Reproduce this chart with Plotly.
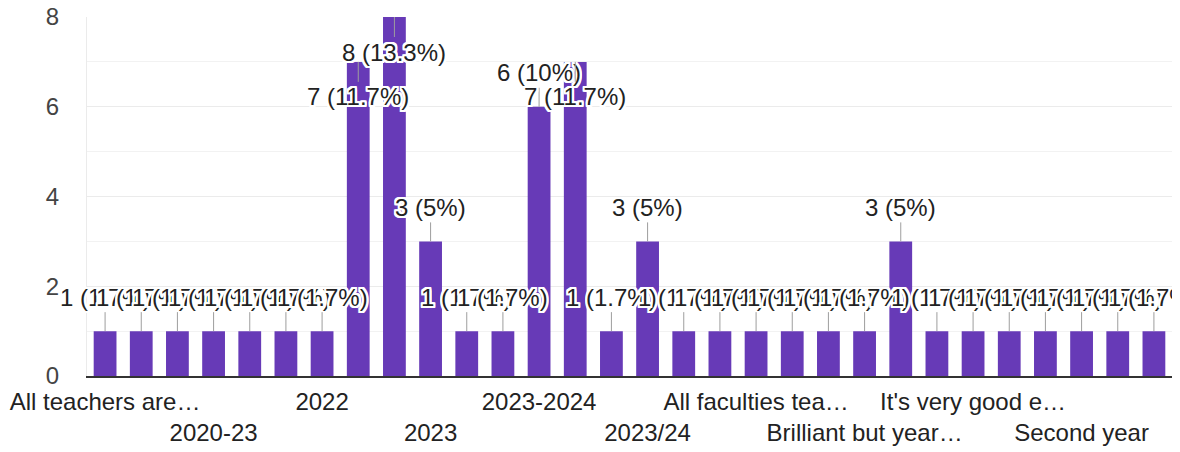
import plotly.graph_objects as go

# responses per answer, in the order the chart lists them
counts = [1, 1, 1, 1, 1, 1, 1, 7, 8, 3, 1, 1, 6, 7, 1, 3,
          1, 1, 1, 1, 1, 1, 3, 1, 1, 1, 1, 1, 1, 1]

# only every third answer gets a visible label on the axis
tick_labels = [
    "All teachers are…", "2020-23", "2022", "2023", "2023-2024",
    "2023/24", "All faculties tea…", "Brilliant but year…",
    "It's very good e…", "Second year",
]
tick_step = 3

# bars whose label sits below the top of the bar (no room above)
labels_inside = {7, 8, 13}

FONT = "Arial, 'Liberation Sans', sans-serif"
FS = 24
PURPLE = "#673ab7"
HALO = ", ".join(
    f"{dx}px {dy}px 0 #fff"
    for dx in (-2, -1, 0, 1, 2) for dy in (-2, -1, 0, 1, 2) if dx or dy
)

total = sum(counts)
x = list(range(len(counts)))
tickvals = list(range(0, len(counts), tick_step))[:len(tick_labels)]
ticktext = [lab if i % 2 == 0 else "<br>" + lab for i, lab in enumerate(tick_labels)]

fig = go.Figure()
fig.add_trace(
    go.Bar(
        x=x,
        y=counts,
        marker=dict(color=PURPLE, line=dict(width=0)),
        hovertemplate="%{y}<extra></extra>",
    )
)

for i, c in enumerate(counts):
    pct = round(100 * c / total, 1)
    fig.add_annotation(
        x=i,
        y=c,
        text=f"{c} ({pct:g}%)",
        showarrow=True,
        arrowhead=0,
        arrowwidth=1,
        arrowcolor="#9e9e9e",
        ax=0,
        ay=35 if i in labels_inside else -34,
        standoff=0,
        font=dict(family=FONT, size=FS, color="#222222", shadow=HALO),
    )

# the page body adds an 8px offset, so margins are shifted to compensate
fig.update_layout(
    width=1180,
    height=452,
    margin=dict(l=79, r=16, t=9, b=84, autoexpand=False),
    paper_bgcolor="white",
    plot_bgcolor="white",
    showlegend=False,
    bargap=0.37,
    font=dict(family=FONT, size=FS, color="#222222"),
)

fig.update_xaxes(
    tickmode="array",
    tickvals=tickvals,
    ticktext=ticktext,
    tickangle=0,
    automargin=False,
    ticklabeloverflow="allow",
    showgrid=False,
    zeroline=False,
    showline=True,
    linecolor="#333333",
    linewidth=1.5,
    ticks="",
    ticklabelstandoff=3,
    range=[-0.5, len(counts) - 0.5],
    tickfont=dict(family=FONT, size=FS, color="#222222"),
)

fig.update_yaxes(
    range=[0, 8],
    dtick=2,
    automargin=False,
    ticklabeloverflow="allow",
    showgrid=True,
    gridcolor="#ebebeb",
    gridwidth=1,
    minor=dict(dtick=1, showgrid=True, gridcolor="#f2f2f2", gridwidth=1),
    zeroline=False,
    showline=True,
    mirror=True,
    linecolor="#ebebeb",
    ticks="",
    ticklabelstandoff=22,
    tickfont=dict(family=FONT, size=FS, color="#444444"),
)

fig.write_html("out.html")
